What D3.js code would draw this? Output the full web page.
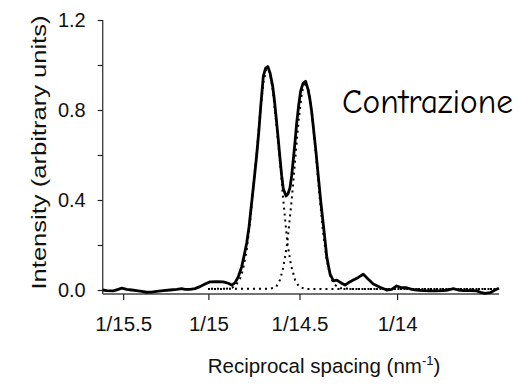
<!DOCTYPE html>
<html>
<head>
<meta charset="utf-8">
<script src="https://cdn.jsdelivr.net/npm/d3@7"></script>
<style>
  html, body { margin: 0; padding: 0; background: #fff; }
  svg { display: block; }
</style>
</head>
<body>
<div id="chart"></div>
<script>
// ---- Data (reciprocal spacing in nm^-1, intensity in arbitrary units) ----
const measuredX = [0.064000,0.064101,0.064267,0.064394,0.064479,0.064606,0.064732,0.064858,0.064984,0.065110,
  0.065236,0.065363,0.065529,0.065698,0.065867,0.065993,0.066077,0.066203,0.066329,0.066455,
  0.066581,0.066708,0.066877,0.067043,0.067169,0.067255,0.067338,0.067422,0.067508,0.067566,
  0.067634,0.067692,0.067760,0.067818,0.067886,0.067937,0.067987,0.068053,0.068108,0.068166,
  0.068222,0.068290,0.068335,0.068391,0.068436,0.068474,0.068517,0.068557,0.068626,0.068676,
  0.068726,0.068769,0.068810,0.068853,0.068895,0.068946,0.068996,0.069054,0.069118,0.069181,
  0.069231,0.069274,0.069314,0.069377,0.069441,0.069504,0.069567,0.069610,0.069652,0.069693,
  0.069736,0.069819,0.069905,0.070031,0.070114,0.070198,0.070324,0.070450,0.070576,0.070702,
  0.070828,0.070997,0.071167,0.071293,0.071419,0.071545,0.071671,0.071797,0.071923,0.072090,
  0.072259,0.072428,0.072595,0.072721,0.072847,0.072973,0.073100,0.073269,0.073438,0.073564,
  0.073647,0.073773,0.073899,0.074000];
const measuredY = [0.000,-0.003,-0.004,0.003,0.008,0.003,0.000,-0.003,-0.006,-0.010,
  -0.009,-0.006,-0.003,0.000,0.003,0.006,0.003,0.003,0.006,0.015,
  0.027,0.036,0.037,0.036,0.030,0.022,0.032,0.059,0.104,0.151,
  0.209,0.280,0.390,0.485,0.600,0.700,0.815,0.950,0.985,0.993,
  0.965,0.905,0.840,0.742,0.658,0.585,0.507,0.450,0.418,0.428,
  0.455,0.510,0.580,0.658,0.742,0.822,0.885,0.918,0.928,0.892,
  0.845,0.791,0.726,0.622,0.504,0.391,0.290,0.222,0.150,0.110,
  0.072,0.041,0.044,0.030,0.022,0.032,0.044,0.056,0.070,0.048,
  0.027,0.012,0.000,0.003,0.018,0.010,0.010,0.003,0.000,-0.003,
  -0.004,-0.004,-0.003,0.000,0.006,0.000,-0.003,-0.003,-0.004,-0.012,
  -0.015,-0.012,0.000,0.008];

const fit1X = [0.066657,0.067086,0.067263,0.067364,0.067465,0.067540,0.067634,0.067717,0.067793,0.067886,
  0.067969,0.068053,0.068121,0.068171,0.068234,0.068297,0.068386,0.068474,0.068557,0.068658,
  0.068752,0.068853,0.068954,0.069105,0.074000];
const fit1Y = [0.005,0.005,0.010,0.022,0.050,0.090,0.180,0.300,0.440,0.610,
  0.780,0.920,0.978,0.985,0.955,0.880,0.730,0.570,0.400,0.210,
  0.110,0.045,0.015,0.005,0.005];

const fit2X = [0.066657,0.068222,0.068373,0.068474,0.068557,0.068658,0.068769,0.068853,0.068941,0.069029,
  0.069118,0.069206,0.069294,0.069382,0.069471,0.069559,0.069647,0.069736,0.069837,0.069988,
  0.070240,0.074000];
const fit2Y = [0.005,0.006,0.012,0.045,0.100,0.210,0.400,0.570,0.750,0.880,
  0.925,0.880,0.760,0.600,0.420,0.260,0.140,0.065,0.025,0.008,
  0.005,0.005];

const xTickValues = [1/15.5, 1/15, 1/14.5, 1/14];
const xTickLabels = ["1/15.5", "1/15", "1/14.5", "1/14"];
const yMajorTicks = [0, 0.4, 0.8, 1.2];
const yMinorTicks = [0.2, 0.6, 1.0];
const xDomain = [0.064, 0.074];
const yDomain = [0, 1.2];

// ---- Layout ----
const W = 520, H = 390;
const plotLeft = 102.7, plotRight = 499, plotTop = 20, zeroY = 290, axisY = 294;
const font = "'Liberation Sans', Arial, Helvetica, sans-serif";

const svg = d3.select("#chart").append("svg")
  .attr("width", W).attr("height", H);

const x = d3.scaleLinear().domain(xDomain).range([plotLeft, plotRight]);
const y = d3.scaleLinear().domain(yDomain).range([zeroY, plotTop]);

// Axis lines
svg.append("line")
  .attr("x1", x(xDomain[0])).attr("x2", x(xDomain[0]))
  .attr("y1", y(yDomain[1])).attr("y2", axisY)
  .attr("stroke", "#444").attr("stroke-width", 1.4);
svg.append("line")
  .attr("x1", x(xDomain[0])).attr("x2", x(xDomain[1]))
  .attr("y1", axisY).attr("y2", axisY)
  .attr("stroke", "#444").attr("stroke-width", 1.4);

// Y axis
const yTicksAll = yMajorTicks.concat(yMinorTicks).sort((a, b) => a - b);
const yAxis = d3.axisLeft(y)
  .tickValues(yTicksAll)
  .tickSize(5)
  .tickPadding(12)
  .tickFormat(d => yMajorTicks.some(v => Math.abs(v - d) < 1e-9) ? d3.format(".1f")(d) : "");
const gy = svg.append("g").attr("transform", `translate(${plotLeft},0)`).call(yAxis);
gy.select(".domain").remove();
gy.selectAll(".tick line").attr("stroke", "#222").attr("stroke-width", 1.2);
gy.selectAll(".tick text").attr("font-family", font).attr("font-size", 20).attr("fill", "#111");

// X axis
const xAxis = d3.axisBottom(x)
  .tickValues(xTickValues)
  .tickSize(6)
  .tickPadding(16)
  .tickFormat((d, i) => xTickLabels[i]);
const gx = svg.append("g").attr("transform", `translate(0,${axisY})`).call(xAxis);
gx.select(".domain").remove();
gx.selectAll(".tick line").attr("stroke", "#222").attr("stroke-width", 1.2);
gx.selectAll(".tick text").attr("font-family", font).attr("font-size", 20.5).attr("fill", "#111");

// Curves
const line = d3.line().x(d => x(d[0])).y(d => y(d[1]));
const zip = (a, b) => a.map((v, i) => [v, b[i]]);

svg.append("path").datum(zip(fit1X, fit1Y))
  .attr("d", line).attr("fill", "none")
  .attr("stroke", "#000").attr("stroke-width", 2)
  .attr("stroke-dasharray", "2,4");
svg.append("path").datum(zip(fit2X, fit2Y))
  .attr("d", line).attr("fill", "none")
  .attr("stroke", "#000").attr("stroke-width", 2)
  .attr("stroke-dasharray", "2,4").attr("stroke-dashoffset", 3);
svg.append("path").datum(zip(measuredX, measuredY))
  .attr("d", line).attr("fill", "none")
  .attr("stroke", "#000").attr("stroke-width", 2.8)
  .attr("stroke-linejoin", "round");

// Annotation
svg.append("text")
  .attr("x", 342).attr("y", 113)
  .attr("font-family", "'Comic Sans MS', 'Comic Neue', 'DejaVu Sans', sans-serif")
  .attr("font-size", 34)
  .attr("textLength", 171).attr("lengthAdjust", "spacingAndGlyphs")
  .attr("fill", "#000")
  .text("Contrazione");

// Axis titles
const xt = svg.append("text")
  .attr("x", 324).attr("y", 373)
  .attr("text-anchor", "middle")
  .attr("font-family", font).attr("font-size", 20.5).attr("fill", "#111");
xt.append("tspan").text("Reciprocal spacing (nm");
xt.append("tspan").attr("dy", -8).attr("font-size", 13).text("-1");
xt.append("tspan").attr("dy", 8).text(")");

svg.append("text")
  .attr("transform", `translate(46,152.5) rotate(-90)`)
  .attr("text-anchor", "middle")
  .attr("font-family", font).attr("font-size", 21).attr("fill", "#111")
  .attr("textLength", 274).attr("lengthAdjust", "spacingAndGlyphs")
  .text("Intensity (arbitrary units)");
</script>
</body>
</html>
